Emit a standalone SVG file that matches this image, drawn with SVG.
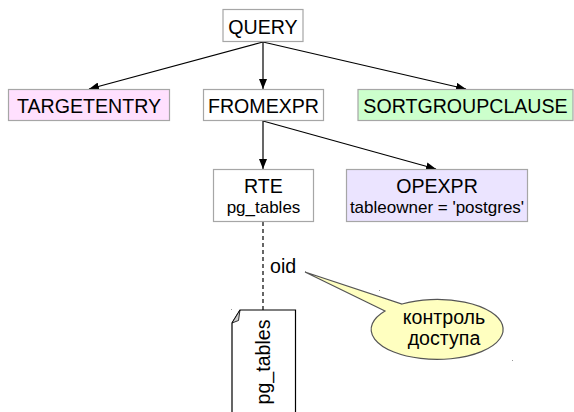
<svg xmlns="http://www.w3.org/2000/svg" width="574" height="412" viewBox="0 0 574 412">
<defs>
<marker id="arr" viewBox="0 0 10 8" refX="10" refY="4" markerWidth="10" markerHeight="8" markerUnits="userSpaceOnUse" orient="auto">
<path d="M0,0 L10,4 L0,8 Z" fill="#000"/>
</marker>
<style>
.box{stroke:#a6a6a6;stroke-width:1.2}
.t{font-family:"Liberation Sans",Arial,sans-serif;font-size:19.6px;fill:#000;text-anchor:middle}
.s{font-family:"Liberation Sans",Arial,sans-serif;font-size:17px;fill:#000;text-anchor:middle}
.c{stroke:#000;stroke-width:1.2;fill:none}
.dot{fill:#999}
</style>
</defs>
<rect width="574" height="412" fill="#fff"/>
<g id="connectors">
<line class="c" x1="263" y1="42" x2="89" y2="89" marker-end="url(#arr)"/>
<line class="c" x1="263" y1="42" x2="263" y2="89" marker-end="url(#arr)"/>
<line class="c" x1="263" y1="42" x2="466" y2="89" marker-end="url(#arr)"/>
<line class="c" x1="263" y1="121" x2="263" y2="169" marker-end="url(#arr)"/>
<line class="c" x1="263" y1="121" x2="436" y2="169" marker-end="url(#arr)"/>
<line class="c" x1="263" y1="222" x2="263" y2="310" stroke-dasharray="4,3"/>
</g>
<g id="query">
<rect class="box" x="223" y="9.5" width="80" height="32" fill="#fff"/>
<text class="t" x="263" y="34">QUERY</text>
</g>
<g id="targetentry">
<rect class="box" x="8.5" y="89.5" width="161" height="31" fill="#ffe0fe"/>
<text class="t" x="89" y="113">TARGETENTRY</text>
</g>
<g id="fromexpr">
<rect class="box" x="203.5" y="89.5" width="120" height="31" fill="#fff"/>
<text class="t" x="263.5" y="113">FROMEXPR</text>
</g>
<g id="sortgroupclause">
<rect class="box" x="358" y="89.5" width="215" height="31" fill="#ccffcc"/>
<text class="t" x="465.5" y="113">SORTGROUPCLAUSE</text>
</g>
<g id="rte">
<rect class="box" x="213.5" y="169.5" width="100" height="52" fill="#fff"/>
<text class="t" x="263.5" y="193">RTE</text>
<text class="s" x="263.5" y="213">pg_tables</text>
</g>
<g id="opexpr">
<rect class="box" x="346.5" y="169.5" width="181" height="52" fill="#ebe4ff"/>
<text class="t" x="437" y="193">OPEXPR</text>
<text class="s" x="437" y="213">tableowner = 'postgres'</text>
</g>
<g id="oid">
<text class="t" x="270" y="273" style="text-anchor:start">oid</text>
</g>
<g id="pg_tables_doc">
<path d="M232,323 L240,310 H295.5 V414 M232,323 V414" fill="#fff" stroke="#000" stroke-width="1.2"/>
<path d="M240,310 L232,323 L238.5,320.5 Z" fill="#ccc" stroke="#000" stroke-width="0.8"/>
<text class="t" transform="translate(270,362) rotate(-90)" x="0" y="0">pg_tables</text>
</g>
<g id="callout">
<path d="M385,311 L305,272 L402,304 A66 30 0 1 1 385,311 Z" fill="#ffffc0" stroke="#555" stroke-width="1.2"/>
<text class="t" x="444" y="324">контроль</text>
<text class="t" x="444" y="345">доступа</text>
</g>
<rect class="dot" x="379" y="290" width="1" height="1"/>
<rect class="dot" x="512" y="360" width="1" height="1"/>
<rect class="dot" x="231" y="309" width="1" height="1"/>
</svg>
